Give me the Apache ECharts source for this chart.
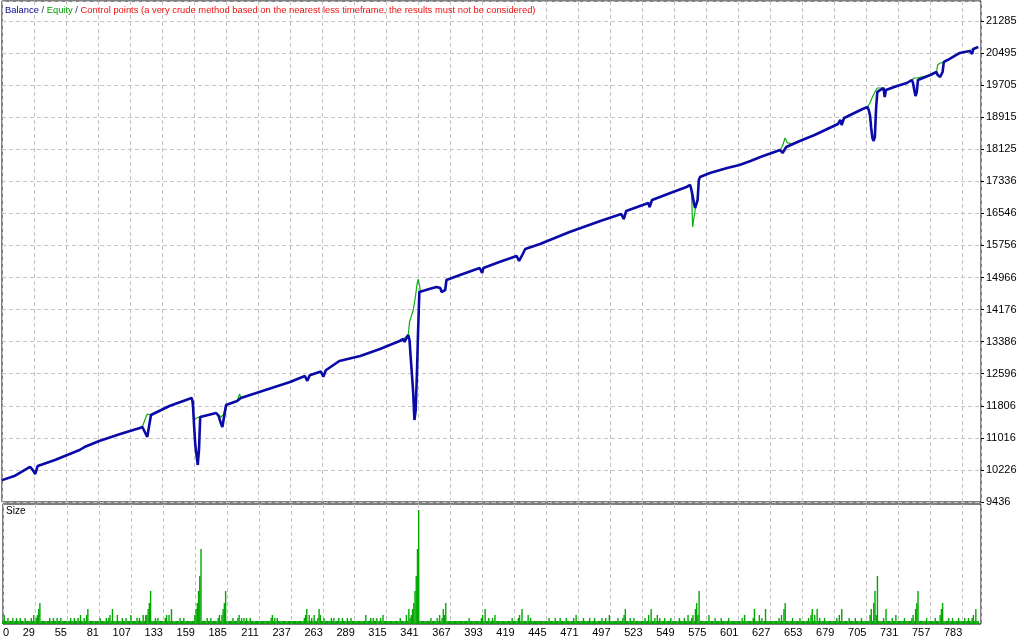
<!DOCTYPE html>
<html>
<head>
<meta charset="utf-8">
<script src="https://cdn.jsdelivr.net/npm/echarts@6/dist/echarts.min.js"></script>
<style>html,body{margin:0;padding:0;background:#fff}#chart{width:1024px;height:640px}</style>
</head>
<body>
<div id="chart"></div>
<script>
// ---------- DATA ----------
const xTickLabels = ['0','29','55','81','107','133','159','185','211','237','263','289','315','341','367','393','419','445','471','497','523','549','575','601','627','653','679','705','731','757','783'];
const yTickLabels = ['9436','10226','11016','11806','12596','13386','14176','14966','15756','16546','17336','18125','18915','19705','20495','21285'];

// trade number -> account value (polyline vertices)
const balance = [
 [3,9975],[13,10076],[24,10273],[26,10298],[28,10224],[30,10126],[31,10150],[32,10323],[46,10471],[66,10717],[70,10790],[82,10939],
 [99,11111],[115,11259],[117,11283],[119,11160],[121,11037],[122,11062],[124,11579],[139,11801],[157,11998],[158,11899],[159,11333],
 [160,10840],[161,10594],[162,10347],[163,10717],[164,11530],[177,11628],[179,11554],[181,11357],[182,11283],[183,11308],[185,11825],
 [194,11924],[197,11998],[212,12146],[237,12392],[249,12540],[251,12420],[253,12560],[262,12650],[264,12520],[266,12680],[277,12909],
 [294,13032],[310,13205],[326,13402],[329,13451],[330,13377],[332,13500],[333,13550],[334,13427],[335,12983],[336,12564],[337,12121],
 [338,11456],[339,11702],[340,12564],[341,13673],[342,14609],[350,14683],[356,14732],[359,14707],[360,14609],[361,14584],[363,14658],
 [364,14904],[375,15028],[391,15200],[393,15077],[394,15200],[407,15348],[421,15496],[423,15372],[424,15348],[426,15545],[428,15668],
 [440,15791],[464,16087],[489,16358],[506,16530],[508,16407],[510,16604],[528,16801],[529,16702],[531,16875],[548,17072],[559,17195],
 [562,17245],[563,17121],[564,16974],[565,16801],[566,16678],[567,16629],[568,16875],[569,17368],[570,17442],[578,17540],[592,17663],
 [602,17737],[611,17836],[619,17934],[635,18107],[637,18033],[638,17984],[640,18181],[651,18329],[663,18476],[682,18747],[684,18846],
 [685,18723],[687,18895],[692,18969],[702,19117],[706,19166],[707,19092],[708,18969],[709,18649],[710,18403],[711,18329],[712,18427],
 [713,19141],[714,19536],[715,19585],[719,19634],[720,19412],[721,19585],[730,19683],[738,19757],[742,19831],[743,19757],[744,19585],
 [745,19436],[746,19535],[747,19831],[757,19954],[762,20028],[763,19954],[765,19905],[767,20028],[768,20275],[771,20323],[781,20496],
 [789,20545],[791,20471],[792,20594],[796,20644]
];
const equity = [
 [3,9975],[13,10076],[24,10273],[26,10298],[28,10224],[30,10126],[31,10150],[32,10323],[46,10471],[66,10717],[70,10790],[82,10939],
 [99,11111],[115,11259],[117,11283],[119,11456],[121,11604],[122,11628],[124,11579],[139,11801],[157,11998],[158,11702],[159,11456],
 [160,11480],[161,11505],[162,11530],[163,11530],[164,11530],[177,11628],[179,11580],[181,11530],[183,11600],[185,11825],
 [194,11924],[196,12096],[197,11998],[212,12146],[237,12392],[249,12540],[251,12420],[253,12560],[262,12650],[264,12520],[266,12680],[277,12909],
 [294,13032],[310,13205],[326,13402],[329,13451],[330,13500],[333,13550],[334,13870],[335,13968],[336,14067],[337,14166],
 [338,14338],[339,14535],[340,14781],[341,14929],[342,14781],[343,14615],[350,14683],[356,14732],[359,14707],[360,14609],[361,14584],[363,14658],
 [364,14904],[375,15028],[391,15200],[393,15077],[394,15200],[407,15348],[421,15496],[423,15372],[424,15348],[426,15545],[428,15668],
 [440,15791],[464,16087],[489,16358],[506,16530],[508,16407],[510,16604],[528,16801],[529,16702],[531,16875],[548,17072],[559,17195],
 [562,17245],[563,17121],[564,16210],[565,16432],[566,16629],[567,16629],[568,16875],[569,17368],[570,17442],[578,17540],[592,17663],
 [602,17737],[611,17836],[619,17934],[635,18107],[637,18205],[639,18403],[641,18280],[645,18260],[651,18329],[663,18476],[682,18747],[684,18846],
 [685,18723],[687,18895],[692,18969],[702,19117],[706,19166],[708,19264],[710,19412],[712,19536],[714,19634],[715,19610],
 [719,19634],[720,19412],[721,19585],[730,19683],[738,19757],[742,19831],[744,19880],[746,19880],[747,19860],
 [757,19954],[762,20028],[763,20200],[765,20250],[767,20260],[768,20275],[771,20323],[781,20496],
 [789,20545],[791,20594],[793,20620],[796,20644]
];

// lot size of every trade, starting with trade number firstTrade
const firstTrade = 3;
const sizes = [
 0.1,0.3,0.1,0.1,0.2,0.1,0.1,0.1,0.2,0.1,0.1,0.2,0.1,0.1,0.2,0.1,0.1,0.1,0.2,0.1,0.1,0.1,0.1,0.2,0.1,0.3,
 0.1,0.2,0.3,0.5,0.7,0.1,0.1,0.1,0.1,0.1,0.1,0.1,0.2,0.1,0.1,0.2,0.1,0.1,0.2,0.1,0.1,0.2,0.1,0.1,0.1,0.1,
 0.1,0.1,0.1,0.2,0.1,0.1,0.2,0.1,0.1,0.2,0.1,0.3,0.1,0.1,0.2,0.1,0.3,0.5,0.1,0.1,0.1,0.1,0.1,0.1,0.1,0.1,
 0.1,0.2,0.1,0.1,0.1,0.1,0.2,0.1,0.2,0.3,0.1,0.5,0.1,0.1,0.1,0.3,0.1,0.1,0.1,0.2,0.1,0.1,0.2,0.1,0.1,0.1,
 0.3,0.1,0.1,0.1,0.1,0.2,0.1,0.2,0.1,0.1,0.3,0.1,0.3,0.3,0.5,0.7,1.1,0.1,0.1,0.1,0.2,0.1,0.2,0.1,0.1,0.1,
 0.1,0.1,0.2,0.3,0.1,0.3,0.1,0.5,0.1,0.1,0.1,0.1,0.1,0.1,0.2,0.1,0.1,0.2,0.1,0.1,0.1,0.1,0.1,0.1,0.1,0.1,
 0.3,0.5,0.7,1.1,1.6,2.5,0.1,0.1,0.1,0.1,0.2,0.1,0.1,0.2,0.1,0.1,0.1,0.1,0.1,0.2,0.3,0.1,0.3,0.5,0.7,1.1,
 0.1,0.1,0.1,0.1,0.1,0.2,0.1,0.1,0.1,0.2,0.3,0.1,0.2,0.1,0.2,0.1,0.2,0.1,0.1,0.2,0.1,0.1,0.1,0.1,0.1,0.1,
 0.1,0.1,0.1,0.1,0.1,0.1,0.1,0.1,0.1,0.1,0.2,0.3,0.1,0.2,0.1,0.2,0.1,0.1,0.1,0.1,0.1,0.1,0.1,0.1,0.1,0.1,
 0.1,0.1,0.1,0.1,0.1,0.1,0.1,0.1,0.1,0.1,0.1,0.2,0.3,0.5,0.1,0.3,0.1,0.2,0.1,0.3,0.1,0.1,0.2,0.5,0.3,0.1,
 0.1,0.2,0.1,0.1,0.1,0.1,0.1,0.2,0.1,0.2,0.1,0.1,0.1,0.2,0.1,0.1,0.2,0.1,0.1,0.1,0.2,0.1,0.1,0.2,0.1,0.1,
 0.1,0.1,0.1,0.1,0.1,0.1,0.1,0.1,0.1,0.3,0.1,0.1,0.1,0.2,0.1,0.2,0.1,0.1,0.2,0.1,0.1,0.2,0.1,0.3,0.1,0.1,
 0.1,0.1,0.1,0.1,0.1,0.1,0.1,0.1,0.1,0.1,0.1,0.2,0.1,0.1,0.1,0.1,0.3,0.1,0.5,0.2,0.3,0.5,0.7,1.1,1.6,2.5,
 3.8,0.1,0.1,0.1,0.1,0.1,0.1,0.1,0.1,0.1,0.2,0.1,0.1,0.1,0.1,0.2,0.1,0.3,0.1,0.2,0.5,0.3,0.7,0.1,0.1,0.1,
 0.1,0.1,0.1,0.1,0.1,0.1,0.1,0.1,0.1,0.1,0.1,0.1,0.1,0.1,0.1,0.2,0.1,0.1,0.1,0.1,0.1,0.1,0.1,0.1,0.1,0.2,
 0.3,0.1,0.5,0.1,0.1,0.2,0.1,0.1,0.2,0.1,0.3,0.1,0.1,0.1,0.1,0.1,0.1,0.1,0.1,0.1,0.1,0.1,0.1,0.1,0.2,0.1,
 0.1,0.1,0.1,0.2,0.3,0.1,0.5,0.1,0.1,0.1,0.1,0.3,0.1,0.2,0.1,0.1,0.1,0.1,0.1,0.1,0.1,0.1,0.1,0.1,0.1,0.1,
 0.1,0.1,0.2,0.1,0.1,0.1,0.1,0.2,0.1,0.1,0.1,0.2,0.1,0.1,0.1,0.1,0.2,0.1,0.1,0.1,0.1,0.1,0.2,0.1,0.3,0.1,
 0.1,0.1,0.1,0.1,0.2,0.1,0.1,0.1,0.1,0.2,0.1,0.1,0.1,0.2,0.1,0.1,0.1,0.1,0.1,0.2,0.1,0.1,0.2,0.1,0.1,0.3,
 0.1,0.1,0.1,0.1,0.1,0.1,0.2,0.1,0.1,0.1,0.2,0.3,0.5,0.1,0.1,0.1,0.2,0.1,0.1,0.2,0.1,0.1,0.1,0.1,0.1,0.1,
 0.1,0.1,0.2,0.1,0.1,0.3,0.1,0.5,0.1,0.1,0.2,0.1,0.3,0.1,0.2,0.1,0.1,0.1,0.2,0.1,0.1,0.1,0.1,0.2,0.1,0.1,
 0.1,0.1,0.1,0.1,0.2,0.1,0.1,0.1,0.2,0.1,0.1,0.3,0.1,0.1,0.2,0.3,0.1,0.5,0.7,0.3,1.1,0.1,0.1,0.1,0.1,0.1,
 0.1,0.1,0.3,0.1,0.1,0.1,0.1,0.2,0.1,0.1,0.1,0.1,0.2,0.1,0.1,0.1,0.1,0.1,0.2,0.1,0.1,0.1,0.1,0.1,0.1,0.1,
 0.1,0.1,0.1,0.2,0.1,0.3,0.1,0.1,0.1,0.1,0.1,0.1,0.2,0.5,0.1,0.1,0.1,0.3,0.1,0.2,0.1,0.1,0.5,0.1,0.1,0.1,
 0.1,0.1,0.1,0.1,0.1,0.1,0.1,0.2,0.1,0.3,0.1,0.5,0.7,0.1,0.1,0.1,0.1,0.1,0.2,0.1,0.1,0.1,0.1,0.1,0.2,0.1,
 0.1,0.1,0.1,0.1,0.1,0.2,0.1,0.3,0.5,0.1,0.3,0.1,0.5,0.1,0.2,0.1,0.1,0.1,0.2,0.1,0.1,0.1,0.1,0.1,0.1,0.1,
 0.1,0.1,0.2,0.1,0.3,0.1,0.5,0.1,0.1,0.1,0.1,0.1,0.2,0.1,0.1,0.1,0.1,0.2,0.1,0.1,0.1,0.1,0.2,0.1,0.1,0.1,
 0.1,0.1,0.1,0.3,0.5,0.1,0.7,1.1,0.3,1.6,0.1,0.1,0.1,0.1,0.2,0.1,0.5,0.1,0.1,0.1,0.1,0.2,0.1,0.1,0.3,0.1,
 0.1,0.1,0.1,0.1,0.1,0.2,0.1,0.1,0.1,0.1,0.1,0.2,0.3,0.1,0.5,0.7,1.1,0.1,0.1,0.1,0.1,0.1,0.1,0.2,0.1,0.1,
 0.1,0.1,0.1,0.1,0.2,0.1,0.1,0.1,0.3,0.5,0.7,0.1,0.1,0.1,0.1,0.2,0.1,0.1,0.2,0.1,0.1,0.1,0.1,0.2,0.1,0.1,
 0.1,0.1,0.2,0.1,0.1,0.2,0.1,0.1,0.2,0.3,0.1,0.5,0.1,0.1
];

// axis frame (trade range shown and y-scale step between labelled ticks)
const xMin = 3, xMax = 798.2, xStep = 26;
const yBase = 9436.02, yStep = 789.95, yTicksSpan = 15.622;
const sizeMax = 4;

// ---------- CHART ----------
const numFont = 'Liberation Sans';
const chart = echarts.init(document.getElementById('chart'), null, {renderer: 'canvas'});
const dash = {color: '#c4c4c4', width: 1, type: [4, 3]};

chart.setOption({
  backgroundColor: '#ffffff',
  animation: false,
  title: [
    {
      left: 5, top: 6, padding: 0,
      text: '{b|Balance} {k|/} {e|Equity} {k|/} {r|Control points (a very crude method based on the nearest less timeframe, the results must not be considered)}',
      textStyle: {
        fontFamily: numFont, fontSize: 9.4, fontWeight: 'normal', color: '#333',
        rich: {
          b: {color: '#0a0a8c', fontFamily: numFont, fontSize: 9.4},
          k: {color: '#333366', fontFamily: numFont, fontSize: 9.4},
          e: {color: '#00a000', fontFamily: numFont, fontSize: 9.4},
          r: {color: '#ee1111', fontFamily: numFont, fontSize: 9.4}
        }
      }
    },
    {
      left: 6, top: 506, padding: 0, text: 'Size',
      textStyle: {fontFamily: numFont, fontSize: 10, fontWeight: 'normal', color: '#000'}
    }
  ],
  grid: [
    {left: 2, top: 1, width: 979, height: 501, show: true, borderColor: '#000', borderWidth: 1, backgroundColor: 'transparent'},
    {left: 2, top: 504, width: 979, height: 120, show: true, borderColor: '#000', borderWidth: 1, backgroundColor: 'transparent'}
  ],
  xAxis: [
    {
      type: 'value', gridIndex: 0, min: xMin, max: xMax, interval: xStep,
      axisLine: {show: false}, axisTick: {show: false}, axisLabel: {show: false},
      splitLine: {show: true, lineStyle: dash}
    },
    {
      type: 'value', gridIndex: 1, min: xMin, max: xMax, interval: xStep,
      axisLine: {show: false}, axisTick: {show: false},
      axisLabel: {
        show: true, margin: 3, align: 'right', alignMinLabel: 'left', showMaxLabel: false,
        fontFamily: numFont, fontSize: 11, color: '#000',
        formatter: (v, i) => (xTickLabels[i] !== undefined ? xTickLabels[i] : '')
      },
      splitLine: {show: true, lineStyle: dash}
    }
  ],
  yAxis: [
    {
      type: 'value', gridIndex: 0, position: 'left', show: false,
      min: yBase, max: yBase + yTicksSpan * yStep,
      splitLine: {show: false}
    },
    {
      type: 'value', gridIndex: 0, position: 'right', min: 0, max: yTicksSpan, interval: 1,
      axisLine: {show: false},
      axisTick: {show: true, inside: false, length: 3, lineStyle: {color: '#000'}},
      axisLabel: {
        show: true, margin: 5, fontFamily: numFont, fontSize: 11, color: '#000', showMaxLabel: false,
        formatter: (v) => {
          const k = Math.round(v);
          return Math.abs(v - k) < 1e-6 && yTickLabels[k] !== undefined ? yTickLabels[k] : '';
        }
      },
      splitLine: {show: true, lineStyle: dash}
    },
    {
      type: 'value', gridIndex: 1, position: 'right', show: false, min: 0, max: sizeMax,
      splitLine: {show: false}
    }
  ],
  series: [
    {
      name: 'Equity', type: 'line', xAxisIndex: 0, yAxisIndex: 0,
      data: equity, showSymbol: false, symbol: 'none',
      lineStyle: {color: '#0cae0c', width: 1.2}, z: 2
    },
    {
      name: 'Balance', type: 'line', xAxisIndex: 0, yAxisIndex: 0,
      data: balance, showSymbol: false, symbol: 'none',
      lineStyle: {color: '#0a0aa8', width: 2.6}, z: 3
    },
    {
      name: 'Size', type: 'bar', xAxisIndex: 1, yAxisIndex: 2,
      data: sizes.map((s, i) => [firstTrade + i, s]),
      barWidth: 1.4, itemStyle: {color: '#00a800'}, z: 2
    }
  ]
});
</script>
</body>
</html>
